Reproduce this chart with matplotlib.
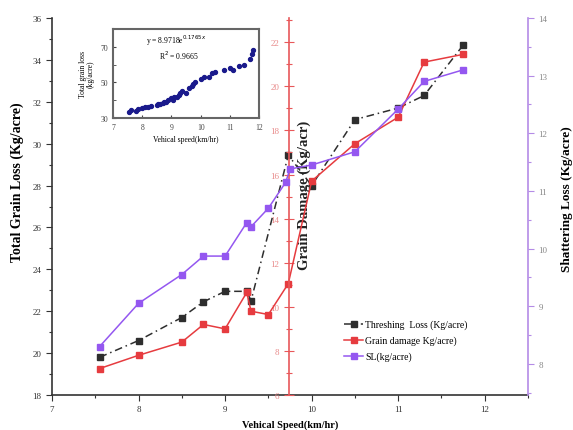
import matplotlib
matplotlib.use("Agg")
import matplotlib.pyplot as plt
from matplotlib.ticker import MultipleLocator

plt.rcParams['font.family'] = ['Liberation Serif', 'DejaVu Serif']

# ---------------- data ----------------
x_tl = [7.55, 8.0, 8.5, 8.75, 9.0, 9.25, 9.3, 9.73, 10.0, 10.5, 11.0, 11.3, 11.75]
y_tl = [19.8, 20.6, 21.7, 22.45, 22.95, 22.95, 22.5, 29.45, 28.0, 31.15, 31.7, 32.3, 34.7]

x_gd = [7.55, 8.0, 8.5, 8.75, 9.0, 9.25, 9.3, 9.5, 9.73, 10.0, 10.5, 11.0, 11.3, 11.75]
y_gd = [7.2, 7.8, 8.4, 9.2, 9.0, 10.65, 9.8, 9.65, 11.05, 15.7, 17.4, 18.6, 21.1, 21.45]

x_sl = [7.55, 8.0, 8.5, 8.75, 9.0, 9.25, 9.3, 9.5, 9.7, 9.75, 10.0, 10.5, 11.0, 11.3, 11.75]
y_sl = [8.3, 9.05, 9.55, 9.87, 9.87, 10.45, 10.38, 10.7, 11.15, 11.38, 11.45, 11.68, 12.42, 12.9, 13.1]

inset_x = [7.55, 7.6, 7.8, 7.85, 8.0, 8.1, 8.2, 8.3, 8.5, 8.55, 8.6, 8.7, 8.75, 8.8, 8.9,
           9.0, 9.05, 9.1, 9.2, 9.25, 9.3, 9.35, 9.5, 9.6, 9.7, 9.75, 9.8, 10.0, 10.1,
           10.3, 10.4, 10.5, 10.8, 11.0, 11.1, 11.3, 11.5, 11.7, 11.75, 11.8]
inset_y = [33.5, 34.5, 34.0, 35.0, 35.5, 36.0, 36.0, 37.0, 37.5, 38.0, 38.0, 38.5, 39.0, 39.0, 40.0,
           41.0, 40.0, 42.0, 42.0, 43.0, 44.0, 45.0, 44.0, 47.0, 48.0, 49.0, 50.0, 52.0, 53.0,
           53.0, 55.0, 56.0, 57.0, 58.0, 57.0, 59.0, 60.0, 63.0, 66.0, 68.0]

labels = ['Threshing  Loss (Kg/acre)', 'Grain damage Kg/acre)', 'SL(kg/acre)']

c_black = '#2e2e2e'
c_red = '#e63b3f'
c_purple = '#9457f0'
c_purple_ax = '#b48be6'
c_red_ax = '#e8585a'

fig = plt.figure(figsize=(5.73, 4.31), dpi=100)
ax = fig.add_axes([52/573, 35/431, 476/573, 377/431])

# main axis (threshing loss)
l1, = ax.plot(x_tl, y_tl, color=c_black, ls=(0, (5, 2.5, 1, 2.5)), lw=1.1,
              marker='s', ms=5, label=labels[0])
ax.set_xlim(7, 12.5)
ax.set_ylim(18, 36)
ax.xaxis.set_major_locator(MultipleLocator(1))
ax.xaxis.set_minor_locator(MultipleLocator(0.5))
ax.yaxis.set_major_locator(MultipleLocator(2))
ax.yaxis.set_minor_locator(MultipleLocator(1))
ax.tick_params(which='both', direction='out', labelsize=6.5, width=0.8, colors='#333333')
ax.tick_params(which='major', length=4)
ax.tick_params(which='minor', length=2)
ax.spines['top'].set_visible(False)
ax.spines['right'].set_visible(False)
for s in ('left', 'bottom'):
    ax.spines[s].set_linewidth(1.2)
    ax.spines[s].set_color('#333333')
ax.set_xlabel('Vehical Speed(km/hr)', fontsize=7.5, fontweight='bold', labelpad=4)
ax.set_ylabel('Total Grain Loss (Kg/acre)', fontsize=10, fontweight='bold')
ax.yaxis.set_label_coords((24 - 52) / 476, (396 - 182) / 377)

# red axis (grain damage)
axr = ax.twinx()
l2, = axr.plot(x_gd, y_gd, color=c_red, lw=1.1, marker='s', ms=5, label=labels[1])
axr.set_ylim(6, 23.1)
for s in ('top', 'right', 'bottom'):
    axr.spines[s].set_visible(False)
axr.spines['left'].set_position(('axes', (289 - 52) / 476))
axr.spines['left'].set_color(c_red_ax)
axr.spines['left'].set_linewidth(1.2)
axr.yaxis.set_ticks_position('left')
axr.yaxis.set_label_position('left')
axr.yaxis.set_major_locator(MultipleLocator(2))
axr.yaxis.set_minor_locator(MultipleLocator(1))
axr.tick_params(which='both', direction='inout', colors=c_red_ax, labelsize=6.5, width=0.8)
axr.tick_params(which='major', length=7)
axr.tick_params(which='minor', length=4)
for t in axr.get_yticklabels():
    t.set_color('#e88a8a')
ax.text((304 - 52) / 476, 1 - (195 - 19) / 377, 'Grain Damage (Kg/acr)', transform=ax.transAxes,
        rotation=90, ha='center', va='center', fontsize=10.5, fontweight='bold', color='#222222',
        zorder=10)

# purple axis (shattering loss)
axp = ax.twinx()
l3, = axp.plot(x_sl, y_sl, color=c_purple, lw=1.1, marker='s', ms=5, label=labels[2])
axp.set_ylim(7.46, 14)
for s in ('top', 'left', 'bottom'):
    axp.spines[s].set_visible(False)
axp.spines['right'].set_color(c_purple_ax)
axp.spines['right'].set_linewidth(1.2)
axp.yaxis.set_major_locator(MultipleLocator(1))
axp.yaxis.set_minor_locator(MultipleLocator(0.5))
axp.tick_params(which='both', direction='out', colors=c_purple_ax, labelsize=6.5, width=0.8)
axp.tick_params(which='major', length=4)
axp.tick_params(which='minor', length=2)
for t in axp.get_yticklabels():
    t.set_color('#888888')
axp.set_ylabel('Shattering Loss (Kg/acre)', fontsize=9.5, fontweight='bold', rotation=90)
axp.yaxis.set_label_coords((561 - 52) / 476, (396 - 199) / 377)

leg = axp.legend(handles=[l1, l2, l3], loc='upper left',
                 bbox_to_anchor=(340 / 573, 1 - 317 / 431), bbox_transform=fig.transFigure,
                 frameon=False, fontsize=7, handlelength=2.0, handletextpad=0.2,
                 labelspacing=0.65, borderaxespad=0)

# inset
axi = fig.add_axes([113/573, 1 - 119/431, 146/573, 89/431])
axi.scatter(inset_x, inset_y, s=8, color='#1a1a8c', zorder=3)
axi.set_xlim(7, 12)
axi.set_ylim(30, 80)
axi.set_xticks([7, 8, 9, 10, 11, 12])
axi.set_yticks([30, 50, 70])
axi.yaxis.set_minor_locator(MultipleLocator(10))
axi.tick_params(which='both', direction='in', labelsize=5.5, colors='#444444', length=2)
for s in axi.spines.values():
    s.set_linewidth(1.5)
    s.set_color('#666666')
axi.set_xlabel('Vehical speed(km/hr)', fontsize=5.5, labelpad=3)
axi.set_ylabel('Total grain loss\n(kg/acre)', fontsize=5.5, labelpad=4, linespacing=1.0)
axi.text(0.43, 0.88, r'y = 8.9718e$^{0.1765x}$', transform=axi.transAxes,
         ha='center', va='center', fontsize=5.5)
axi.text(0.45, 0.71, r'R$^2$ = 0.9665', transform=axi.transAxes,
         ha='center', va='center', fontsize=5.5)

fig.savefig('out.png', dpi=100)
